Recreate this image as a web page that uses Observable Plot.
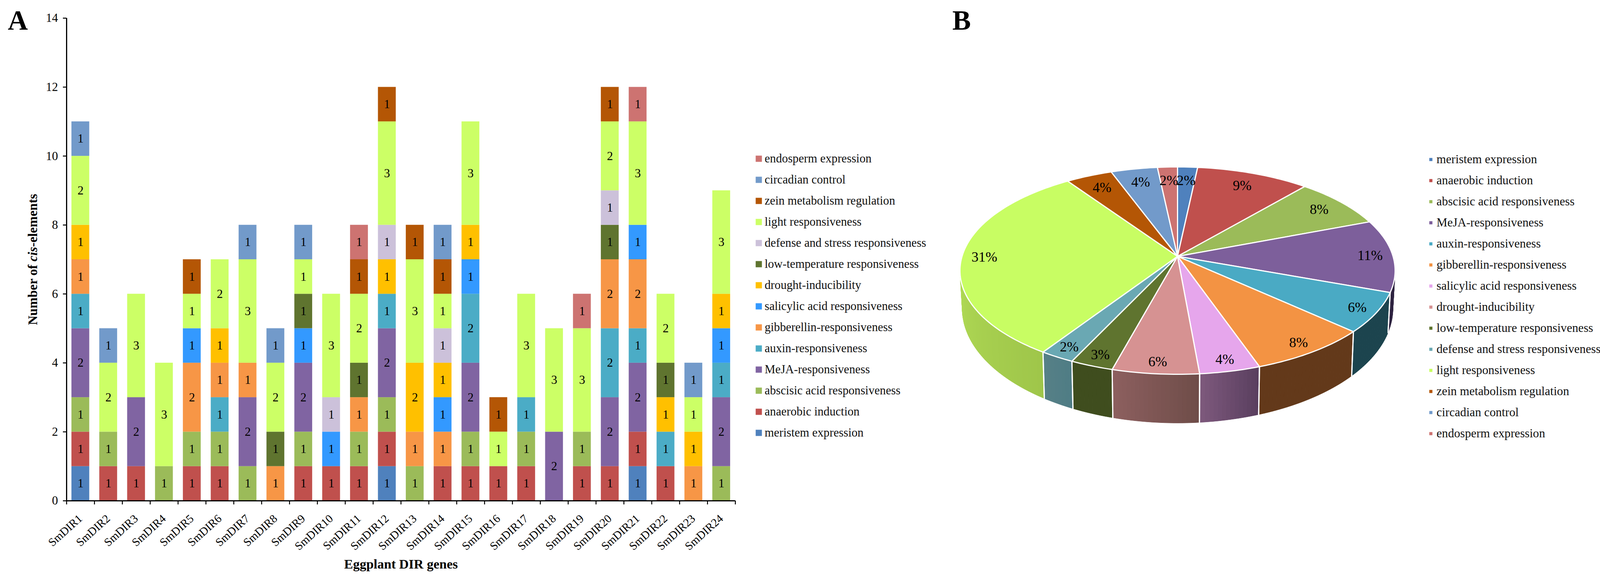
<!DOCTYPE html>
<html>
<head>
<meta charset="utf-8">
<script src="https://cdn.jsdelivr.net/npm/d3@7"></script>
<script src="https://cdn.jsdelivr.net/npm/@observablehq/plot@0.6"></script>
<style>
html,body{margin:0;padding:0;background:#fff;}
#page{position:relative;width:4128px;height:1493px;overflow:hidden;background:#fff;font-family:"Liberation Serif",serif;}
.panel{position:absolute;top:0;}
.letter{position:absolute;font:bold 71px/1 "Liberation Serif",serif;color:#000;top:17px;}
</style>
</head>
<body>
<div id="page"></div>
<script>
const genes = d3.range(1, 25).map(i => "SmDIR" + i);
const names = ["meristem expression","anaerobic induction","abscisic acid responsiveness","MeJA-responsiveness","auxin-responsiveness","gibberellin-responsiveness","salicylic acid responsiveness","drought-inducibility","low-temperature responsiveness","defense and stress responsiveness","light responsiveness","zein metabolism regulation","circadian control","endosperm expression"];

const meristem   = [1,0,0,0,0,0,0,0,0,0,0,1,0,0,0,0,0,0,0,0,1,0,0,0];
const anaerobic  = [1,1,1,0,1,1,0,0,1,1,1,1,0,1,1,1,1,0,1,1,1,1,0,0];
const abscisic   = [1,1,0,1,1,1,1,0,1,0,1,1,1,0,1,0,1,0,1,0,0,0,0,1];
const meja       = [2,0,2,0,0,0,2,0,2,0,0,2,0,0,2,0,0,2,0,2,2,0,0,2];
const auxin      = [1,0,0,0,0,1,0,0,0,0,0,1,0,0,2,0,1,0,0,2,1,1,0,1];
const gibberellin= [1,0,0,0,2,1,1,1,0,0,1,0,1,1,0,0,0,0,0,2,2,0,1,0];
const salicylic  = [0,0,0,0,1,0,0,0,1,1,0,0,0,1,1,0,0,0,0,0,1,0,0,1];
const drought    = [1,0,0,0,0,1,0,0,0,0,0,1,2,1,1,0,0,0,0,0,0,1,1,1];
const lowTemp    = [0,0,0,0,0,0,0,1,1,0,1,0,0,0,0,0,0,0,0,1,0,1,0,0];
const defense    = [0,0,0,0,0,0,0,0,0,1,0,1,0,1,0,0,0,0,0,1,0,0,0,0];
const light      = [2,2,3,3,1,2,3,2,1,3,2,3,3,1,3,1,3,3,3,2,3,2,1,3];
const zein       = [0,0,0,0,1,0,0,0,0,0,1,1,1,1,0,1,0,0,0,1,0,0,0,0];
const circadian  = [1,1,0,0,0,0,1,1,1,0,0,0,0,1,0,0,0,0,0,0,0,0,1,0];
const endosperm  = [0,0,0,0,0,0,0,0,0,0,1,0,0,0,0,0,0,0,1,0,1,0,0,0];
const seriesValues = [meristem,anaerobic,abscisic,meja,auxin,gibberellin,salicylic,drought,lowTemp,defense,light,zein,circadian,endosperm];

const barColors = ["#4f81bd","#c0504d","#9bbb59","#8064a2","#4bacc6","#f79646","#3399ff","#ffc000","#5f742f","#ccc1da","#ccff66","#b45605","#729aca","#cd7371"];
const pieColors = ["#4f81bd","#c0504d","#9bbb59","#7d5f9b","#4aaac4","#f39343","#e6a6ec","#d69292","#5f742f","#6aa8b3","#c8fd63","#b45605","#729aca","#cd7371"];
const pieWallFrom = ["#2e2340","#2e2340","#2e2340","#2e2340","#1c444e","#63391a","#5a3f5f","#6f4d49","#3f4d1e","#4f7d85","#9fc64a","#000","#000","#000"];
const pieWallTo   = ["#2e2340","#2e2340","#2e2340","#2e2340","#1c444e","#63391a","#7f5a7e","#8e6060","#3f4d1e","#578087","#b0da55","#000","#000","#000"];
const pieCounts = [3,17,14,20,11,14,7,10,5,4,55,7,7,3];
const pieLabels = ["2%","9%","8%","11%","6%","8%","4%","6%","3%","2%","31%","4%","4%","2%"];

const page = document.getElementById("page");
const serif = "Liberation Serif";
function place(node, left, width) {
  const d = document.createElement("div");
  d.className = "panel";
  d.style.left = left + "px";
  d.style.width = width + "px";
  d.appendChild(node);
  page.appendChild(d);
}
function letter(t, left) {
  const d = document.createElement("div");
  d.className = "letter";
  d.style.left = left + "px";
  d.textContent = t;
  page.appendChild(d);
}

/* ---------- Panel A: stacked bars ---------- */
const rows = [];
names.forEach((name, s) => genes.forEach((gene, g) => {
  if (seriesValues[s][g] > 0) rows.push({gene, series: name, count: seriesValues[s][g]});
}));
const aLeft = 170, aRight = 1882;
const step = (aRight - aLeft) / genes.length;
const plotA = Plot.plot({
  width: 1900, height: 1493,
  marginLeft: aLeft, marginRight: 1900 - aRight, marginTop: 46, marginBottom: 211,
  style: {fontFamily: serif, background: "transparent", color: "#000"},
  x: {domain: genes, paddingInner: 0.36, paddingOuter: 0.18, round: false, label: null, axis: null},
  y: {domain: [0, 14], label: null},
  color: {domain: names, range: barColors},
  marks: [
    Plot.barY(rows, Plot.stackY({x: "gene", y: "count", z: "series", fill: "series"})),
    Plot.text(rows, Plot.stackY({x: "gene", y: "count", z: "series", text: d => String(d.count), fontSize: 31, fill: "#000"})),
    Plot.axisY({ticks: d3.range(0, 15, 2), tickSize: 9, tickPadding: 13, fontSize: 31, strokeWidth: 2.5, label: null}),
    Plot.text(genes, {x: d => d, text: d => d, frameAnchor: "bottom", textAnchor: "end", lineAnchor: "middle", rotate: -42, dy: 41, fontSize: 29.5, fill: "#000"}),
    Plot.ruleY([0], {stroke: "#000", strokeWidth: 3}),
    Plot.ruleX(genes.slice(0, 1), {x: d => d, y1: 0, y2: 14, dx: -step / 2, stroke: "#000", strokeWidth: 3}),
    Plot.ruleX(genes, {x: d => d, y1: 0, y2: -0.11, dx: -step / 2, stroke: "#000", strokeWidth: 2.5}),
    Plot.ruleX(genes.slice(-1), {x: d => d, y1: 0, y2: -0.11, dx: step / 2, stroke: "#000", strokeWidth: 2.5}),
    Plot.text(["Eggplant DIR genes"], {frameAnchor: "bottom", lineAnchor: "middle", dy: 163, fontSize: 34, fontWeight: "bold", fill: "#000"}),
    Plot.text(["Number of cis-elements"], {frameAnchor: "left", textAnchor: "middle", dx: -86, rotate: -90, fontSize: 33.5, fontWeight: "bold", fill: "#000", className: "ytitle"})
  ]
});
const yt = d3.select(plotA).select(".ytitle text");
yt.text(null);
yt.append("tspan").text("Number of ");
yt.append("tspan").attr("font-style", "italic").text("cis");
yt.append("tspan").text("-elements");
place(plotA, 0, 1900);
letter("A", 20);

/* ---------- Legends ---------- */
function legend(left, width, order, colors, ys, swatchR, swatchDx, textDx, fontSize) {
  const lookup = new Map(names.map((n, i) => [n, colors[i]]));
  const pl = Plot.plot({
    width, height: 1493, margin: 0, axis: null,
    style: {fontFamily: serif, background: "transparent", color: "#000"},
    y: {type: "point", domain: order, range: ys, padding: 0},
    marks: [
      Plot.dot(order, {y: d => d, frameAnchor: "left", dx: swatchDx, symbol: "square", r: swatchR, fill: d => lookup.get(d), stroke: "none"}),
      Plot.text(order, {y: d => d, text: d => d, frameAnchor: "left", dx: textDx, textAnchor: "start", fontSize, fill: "#111"})
    ]
  });
  place(pl, left, width);
}
legend(1900, 500, names.slice().reverse(), barColors, [404, 1110], 9, 42, 57, 30.7);
legend(3640, 488, names, pieColors, [402, 1116], 4.5, 22.5, 37, 31.2);

/* ---------- Panel B: 3D pie, projected from a flat circle ---------- */
const persp = 0.1375, arcStep = 1;
const project = (deg, r) => {
  const t = deg * Math.PI / 180, u = r * Math.sin(t), v = -r * Math.cos(t), k = 1 / (1 - persp * v);
  return {x: u * k, y: v * k};
};
const below = p => ({x: p.x * 0.99, y: p.y * 1.105 + 0.357});
const total = d3.sum(pieCounts);
let run = 0;
const slices = names.map((name, i) => {
  const a0 = run / total * 360; run += pieCounts[i];
  return {name, i, a0, a1: run / total * 360};
});
const topPts = [], strips = [], edges = [], labelPts = [];
const wallA = 98, wallB = 262;
slices.forEach(s => {
  const c = project(0, 0);
  topPts.push({...c, key: s.name, color: pieColors[s.i]});
  for (let a = s.a0; a < s.a1; a += arcStep) topPts.push({...project(a, 1), key: s.name, color: pieColors[s.i]});
  topPts.push({...project(s.a1, 1), key: s.name, color: pieColors[s.i]});
  topPts.push({...c, key: s.name, color: pieColors[s.i]});

  const mid = (s.a0 + s.a1) / 2;
  labelPts.push({...project(mid, Math.min(0.91, 0.895 - 0.065 * Math.cos(mid * Math.PI / 180))), text: pieLabels[s.i]});

  const from = Math.max(s.a0, wallA), to = Math.min(s.a1, wallB);
  if (to > from) {
    const mix = d3.interpolateRgb(pieWallFrom[s.i], pieWallTo[s.i]);
    for (let a = from; a < to; a += arcStep) {
      const b = Math.min(a + arcStep, to), key = s.name + a, color = mix((a - from) / (to - from));
      const p = project(a, 1), q = project(b, 1);
      [p, q, below(q), below(p), p].forEach(pt => strips.push({...pt, key, color}));
    }
    [from, to].forEach(a => {
      if (a === wallA || a === wallB) return;
      const p = project(a, 1);
      [p, below(p)].forEach(pt => edges.push({...pt, key: s.name + "e" + a}));
    });
  }
});
const pieCx = 614, pieA = 551.7, pieApex = 656, pieB = 260.5;
const plotB = Plot.plot({
  width: 1240, height: 1493, margin: 0, axis: null,
  style: {fontFamily: serif, background: "transparent", color: "#000"},
  x: {domain: [-1, 1], range: [pieCx - pieA, pieCx + pieA]},
  y: {domain: [-1, 1], range: [pieApex - pieB, pieApex + pieB]},
  color: {type: "identity"},
  marks: [
    Plot.line(strips, {x: "x", y: "y", z: "key", fill: "color", stroke: "color", strokeWidth: 1}),
    Plot.line(edges, {x: "x", y: "y", z: "key", stroke: "#fff", strokeWidth: 3}),
    Plot.line(topPts, {x: "x", y: "y", z: "key", fill: "color", stroke: "#fff", strokeWidth: 3, strokeLinejoin: "round"}),
    Plot.text(labelPts, {x: "x", y: "y", text: "text", fontSize: 36, fill: "#000"})
  ]
});
place(plotB, 2400, 1240);
letter("B", 2438);
</script>
</body>
</html>
